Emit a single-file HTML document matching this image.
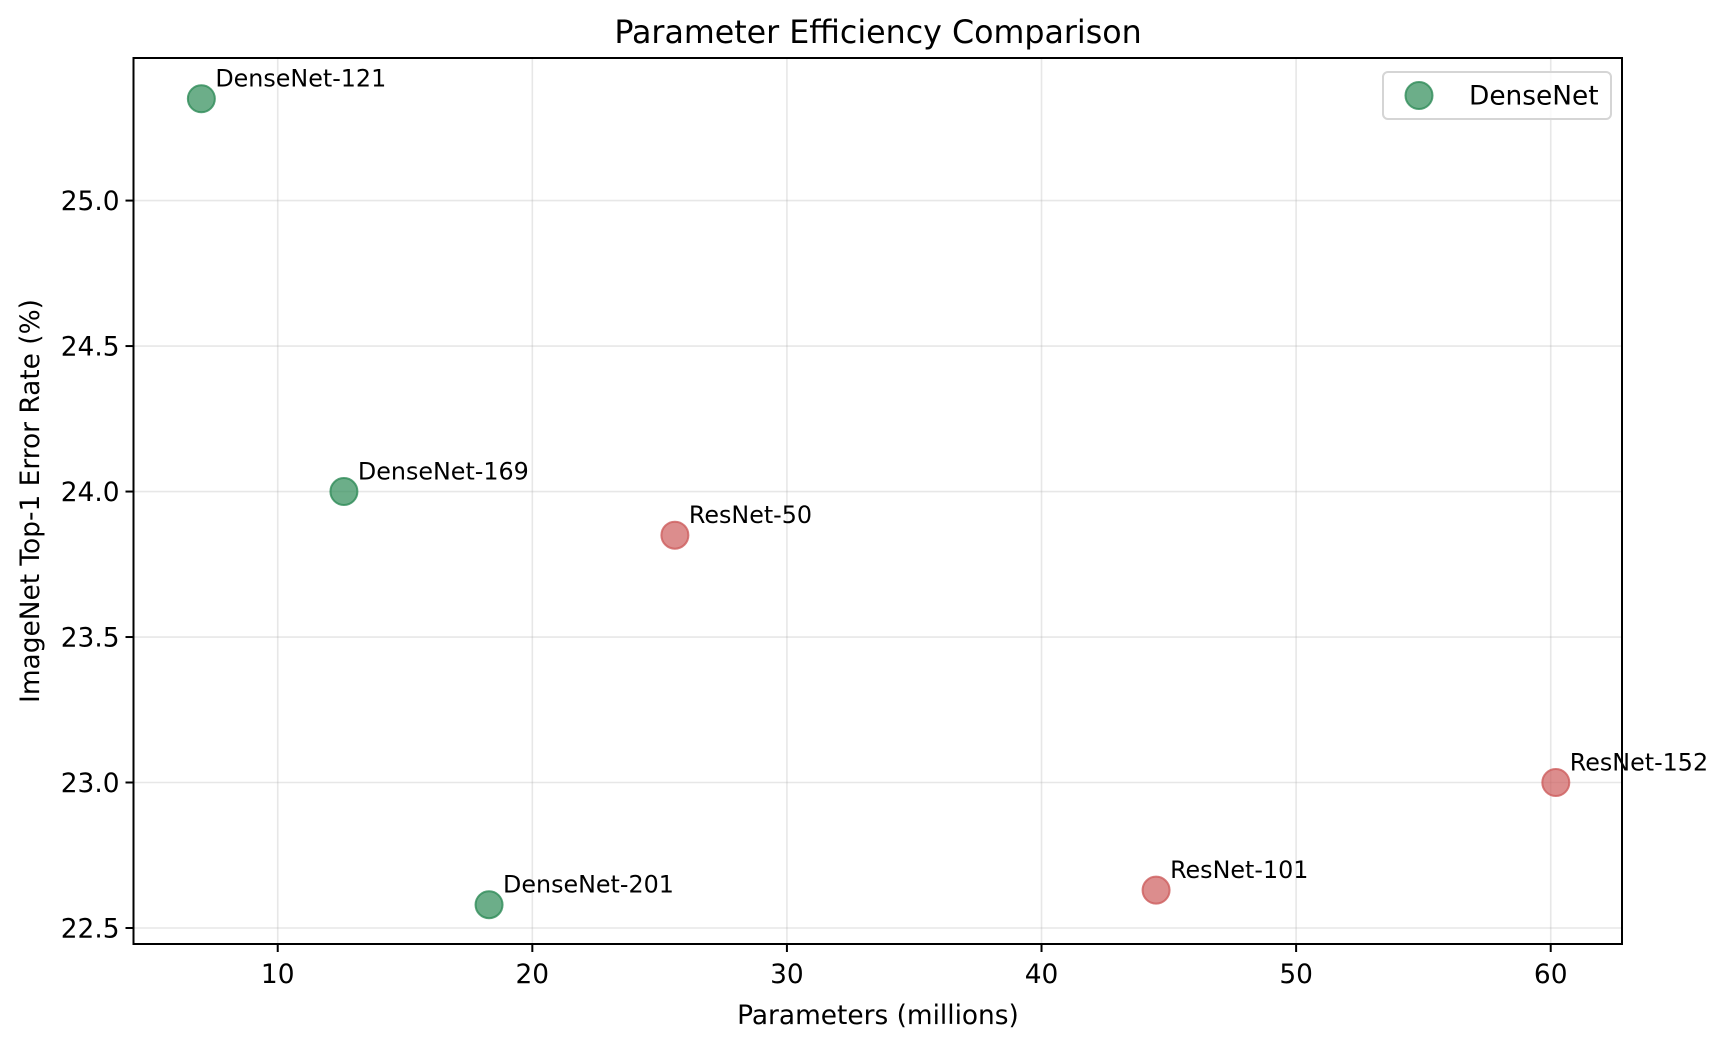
<!DOCTYPE html>
<html><head><meta charset="utf-8"><style>
html,body{margin:0;padding:0;background:#fff;}
svg text{font-family:"DejaVu Sans","Liberation Sans",sans-serif;fill:#000;}
</style></head><body>
<svg id="chart" width="1726" height="1046" viewBox="0 0 1726 1046" xmlns="http://www.w3.org/2000/svg">
<text x="878" y="43" font-size="31.7" text-anchor="middle">Parameter Efficiency Comparison</text>
<g id="grid"></g>
<g id="ticks"></g>
<g id="points"></g>
<rect x="133.5" y="58" width="1488.5" height="886" fill="none" stroke="#000" stroke-width="2"/>
<text x="878" y="1024" font-size="26.4" text-anchor="middle">Parameters (millions)</text>
<text transform="translate(39,501) rotate(-90)" font-size="26.4" text-anchor="middle">ImageNet Top-1 Error Rate (%)</text>
<g>
<rect x="1383" y="72" width="228" height="47" rx="5" fill="#fff" fill-opacity="0.8" stroke="#d5d5d5" stroke-width="2"/>
<circle cx="1419" cy="95.5" r="13.5" fill="#2e8b57" fill-opacity="0.7" stroke="#2e8b57" stroke-opacity="0.8" stroke-width="2"/>
<text x="1469" y="104.5" font-size="26.4">DenseNet</text>
</g>
</svg>
<script>
const names = ["DenseNet-121","DenseNet-169","DenseNet-201","ResNet-50","ResNet-101","ResNet-152"];
const params = [7.0, 12.6, 18.3, 25.6, 44.5, 60.2];
const errors = [25.35, 24.0, 22.58, 23.85, 22.63, 23.0];
const families = ["dense","dense","dense","res","res","res"];
const xTicks = [10, 20, 30, 40, 50, 60];
const yTicks = [22.5, 23.0, 23.5, 24.0, 24.5, 25.0];

const L=133.5,R=1622,T=58,B=944;
const xMin=4.335,xMax=62.8,yMin=22.445,yMax=25.49;
function sx(v){return L+(v-xMin)/(xMax-xMin)*(R-L);}
function sy(v){return B-(v-yMin)/(yMax-yMin)*(B-T);}
const NS="http://www.w3.org/2000/svg";
function mk(tag,attrs,parent){const e=document.createElementNS(NS,tag);for(const k in attrs)e.setAttribute(k,attrs[k]);parent.appendChild(e);return e;}
const grid=document.getElementById('grid'),ticks=document.getElementById('ticks'),pts=document.getElementById('points');
xTicks.forEach(v=>{
  const x=sx(v);
  const g=mk('line',{x1:x,x2:x,y1:T,y2:B,stroke:'#b0b0b0','stroke-opacity':0.3,'stroke-width':1.6},grid);
  
  
  const t=mk('line',{x1:x,x2:x,y1:B,y2:B+8,stroke:'#000','stroke-width':2},ticks);
  
  
  const l=mk('text',{x:x,y:B+39,'font-size':26.4,'text-anchor':'middle'},ticks);
  l.textContent=String(v);
  
  
});
yTicks.forEach(v=>{
  const y=sy(v);
  const g=mk('line',{x1:L,x2:R,y1:y,y2:y,stroke:'#b0b0b0','stroke-opacity':0.3,'stroke-width':1.6},grid);
  
  
  const t=mk('line',{x1:L-8,x2:L,y1:y,y2:y,stroke:'#000','stroke-width':2},ticks);
  
  
  const l=mk('text',{x:L-14,y:y+9.5,'font-size':26.4,'text-anchor':'end'},ticks);
  l.textContent=v.toFixed(1);
  
  
});
names.forEach((n,i)=>{
  const x=sx(params[i]),y=sy(errors[i]);
  const col=families[i]==='dense'?'#2e8b57':'#cd5c5c';
  const c=mk('circle',{cx:x,cy:y,r:13.5,fill:col,'fill-opacity':0.7,stroke:col,'stroke-opacity':0.8,'stroke-width':2},pts);
  
  
  const t=mk('text',{x:x+14,y:y-12,'font-size':23.8},pts);
  t.textContent=n;
  
  
});
</script>
</body></html>
